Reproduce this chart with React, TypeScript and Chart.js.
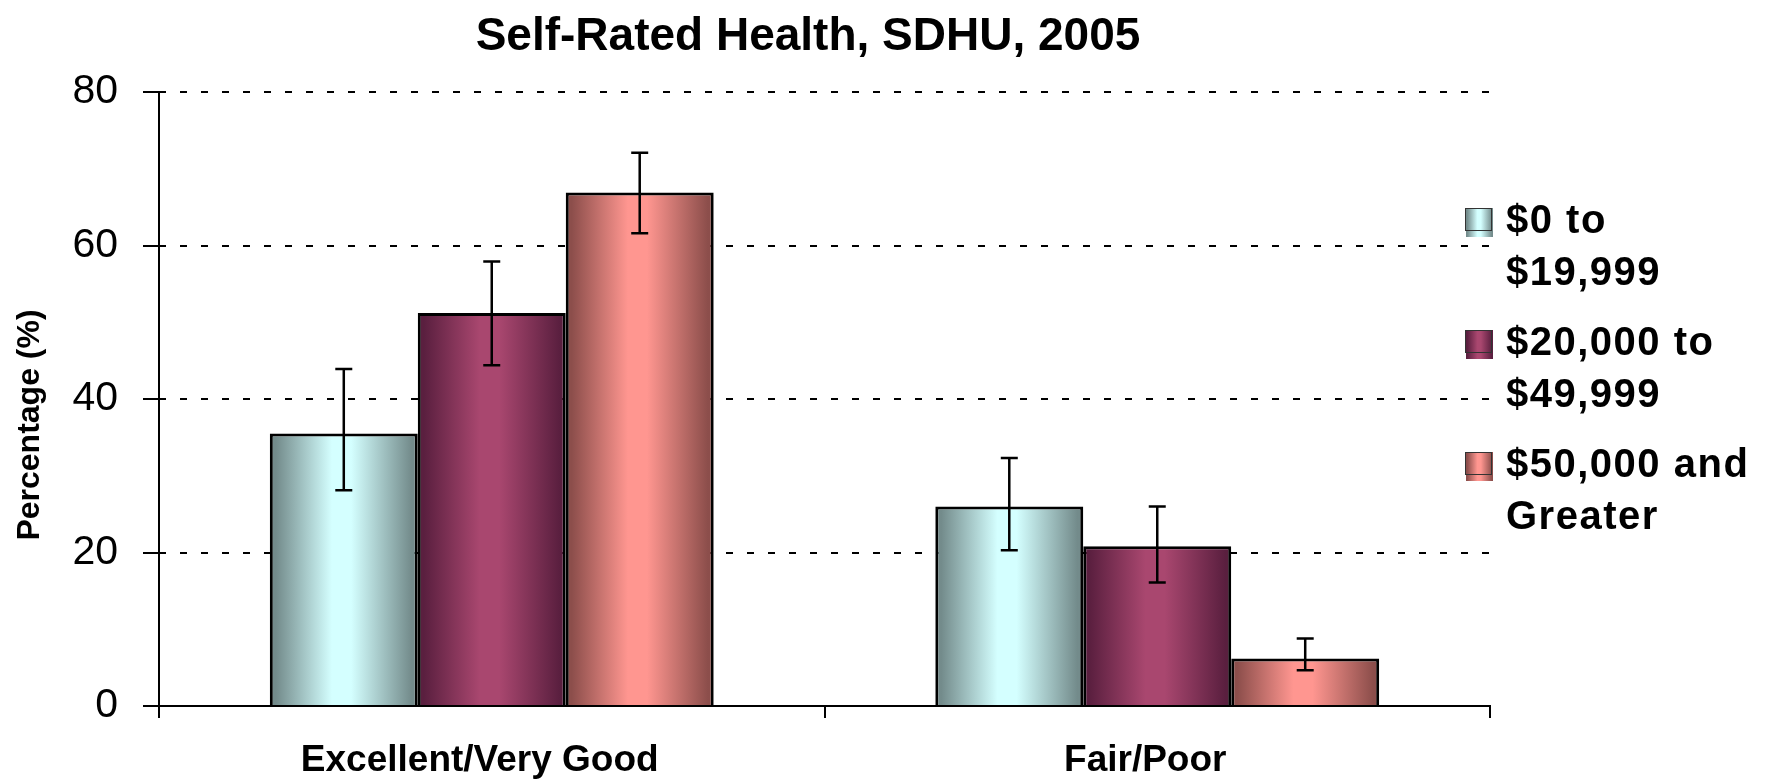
import React, { useEffect, useRef } from "react";
import { Chart, registerables } from "chart.js";

Chart.register(...registerables);

const TITLE = "Self-Rated Health, SDHU, 2005";
const Y_TITLE = "Percentage (%)";
const categories = ["Excellent/Very Good", "Fair/Poor"];
const yTicks = [0, 20, 40, 60, 80];

const legendLines = [
  ["$0 to", "$19,999"],
  ["$20,000 to", "$49,999"],
  ["$50,000 and", "Greater"],
];

const lowIncome = [35.5, 26.0];
const midIncome = [51.2, 20.8];
const highIncome = [66.9, 6.2];

const lowIncomeLower = [28.1, 20.3];
const lowIncomeUpper = [43.9, 32.3];
const midIncomeLower = [44.4, 16.1];
const midIncomeUpper = [57.9, 26.0];
const highIncomeLower = [61.6, 4.65];
const highIncomeUpper = [72.1, 8.8];

const seriesValues = [lowIncome, midIncome, highIncome];
const seriesLower = [lowIncomeLower, midIncomeLower, highIncomeLower];
const seriesUpper = [lowIncomeUpper, midIncomeUpper, highIncomeUpper];

// edge colour, centre colour
const seriesColors = [
  ["#738b8b", "#d4ffff"],
  ["#5a1f3f", "#a9476f"],
  ["#8c4e4b", "#ff9690"],
];

const FONT = "'Liberation Sans', Arial, Helvetica, sans-serif";

function makeGradient(ctx: CanvasRenderingContext2D, x0: number, x1: number, cols: string[]) {
  const g = ctx.createLinearGradient(x0, 0, x1, 0);
  g.addColorStop(0, cols[0]);
  g.addColorStop(0.04, cols[0]);
  g.addColorStop(0.42, cols[1]);
  g.addColorStop(0.55, cols[1]);
  g.addColorStop(0.96, cols[0]);
  g.addColorStop(1, cols[0]);
  return g;
}

const gradientPlugin = {
  id: "barGradient",
  beforeDatasetsDraw(chart: any) {
    const ctx = chart.ctx;
    chart.data.datasets.forEach((_ds: any, i: number) => {
      const meta = chart.getDatasetMeta(i);
      meta.data.forEach((el: any) => {
        const w = el.width;
        const g = makeGradient(ctx, el.x - w / 2, el.x + w / 2, seriesColors[i]);
        el.options = Object.assign({}, el.options, { backgroundColor: g });
      });
    });
  },
};

const errorBarPlugin = {
  id: "errorBars",
  afterDatasetsDraw(chart: any) {
    const ctx = chart.ctx;
    const y = chart.scales.y;
    ctx.save();
    ctx.strokeStyle = "#000";
    ctx.lineWidth = 2.5;
    chart.data.datasets.forEach((_ds: any, i: number) => {
      const meta = chart.getDatasetMeta(i);
      meta.data.forEach((el: any, j: number) => {
        const yt = y.getPixelForValue(seriesUpper[i][j]);
        const yb = y.getPixelForValue(seriesLower[i][j]);
        const x = el.x;
        const cap = 8.5;
        ctx.beginPath();
        ctx.moveTo(x, yt);
        ctx.lineTo(x, yb);
        ctx.moveTo(x - cap, yt);
        ctx.lineTo(x + cap, yt);
        ctx.moveTo(x - cap, yb);
        ctx.lineTo(x + cap, yb);
        ctx.stroke();
      });
    });
    ctx.restore();
  },
};

const textPlugin = {
  id: "titleAndLegend",
  afterDraw(chart: any) {
    const ctx = chart.ctx;
    ctx.save();
    // title
    ctx.fillStyle = "#000";
    ctx.font = `bold 46px ${FONT}`;
    ctx.textAlign = "center";
    ctx.textBaseline = "alphabetic";
    ctx.fillText(TITLE, 808, 50);

    // y axis title
    ctx.save();
    ctx.translate(30, 425);
    ctx.rotate(-Math.PI / 2);
    ctx.font = `bold 32px ${FONT}`;
    ctx.textAlign = "center";
    ctx.textBaseline = "middle";
    ctx.fillText(Y_TITLE, 0, 0);
    ctx.restore();

    // legend
    ctx.textAlign = "left";
    ctx.textBaseline = "alphabetic";
    ctx.font = `bold 40px ${FONT}`;
    (ctx as any).letterSpacing = "1.5px";
    legendLines.forEach((lines, i) => {
      const base = 233 + 122 * i;
      const g = makeGradient(ctx, 1466, 1493, seriesColors[i]);
      ctx.fillStyle = g;
      ctx.fillRect(1466, base - 25, 27, 29);
      ctx.strokeStyle = "#333";
      ctx.lineWidth = 1;
      ctx.strokeRect(1465.5, base - 24.5, 26, 22);
      ctx.fillStyle = "#000";
      lines.forEach((t, k) => {
        ctx.fillText(t, 1506, base + 52 * k);
      });
    });
    ctx.restore();
  },
};

export default function App() {
  const ref = useRef<HTMLCanvasElement>(null);
  useEffect(() => {
    if (!ref.current) return;
    const chart = new Chart(ref.current, {
      type: "bar",
      data: {
        labels: categories,
        datasets: seriesValues.map((vals, i) => ({
          label: legendLines[i].join(" "),
          data: vals,
          backgroundColor: seriesColors[i][1],
          borderColor: "#000",
          borderWidth: 3,
          categoryPercentage: 0.667,
          barPercentage: 1.0,
        })),
      },
      options: {
        responsive: false,
        animation: false,
        devicePixelRatio: 1,
        layout: { padding: { left: 0, right: 283, top: 92, bottom: 0 } },
        plugins: {
          legend: { display: false },
          title: { display: false },
          tooltip: { enabled: false },
        },
        scales: {
          x: {
            grid: {
              display: true,
              drawOnChartArea: false,
              drawTicks: true,
              tickLength: 12,
              color: "#000",
              lineWidth: 2,
            },
            border: { display: true, color: "#000", width: 2 },
            ticks: {
              color: "#000",
              font: { family: FONT, size: 37, weight: "bold" },
              padding: 21,
              labelOffset: -12,
              maxRotation: 0,
            },
            afterFit(scale: any) {
              scale.height = 75;
            },
          },
          y: {
            min: 0,
            max: 80,
            afterBuildTicks(scale: any) {
              scale.ticks = yTicks.map((v) => ({ value: v }));
            },
            grid: {
              color: "#000",
              lineWidth: 2,
              tickLength: 16,
              tickBorderDash: [],
            },
            border: { display: true, color: "#000", width: 2, dash: [7, 14], dashOffset: 1 },
            ticks: {
              color: "#000",
              font: { family: FONT, size: 41 },
              padding: 25,
            },
            title: { display: false },
            afterFit(scale: any) {
              scale.width = 159;
            },
          },
        },
      },
      plugins: [gradientPlugin, errorBarPlugin, textPlugin],
    } as any);
    return () => chart.destroy();
  }, []);
  return (
    <div style={{ position: "absolute", left: 0, top: 0, width: 1773, height: 781, background: "#fff" }}>
      <canvas ref={ref} width={1773} height={781} style={{ width: 1773, height: 781, display: "block" }} />
    </div>
  );
}
